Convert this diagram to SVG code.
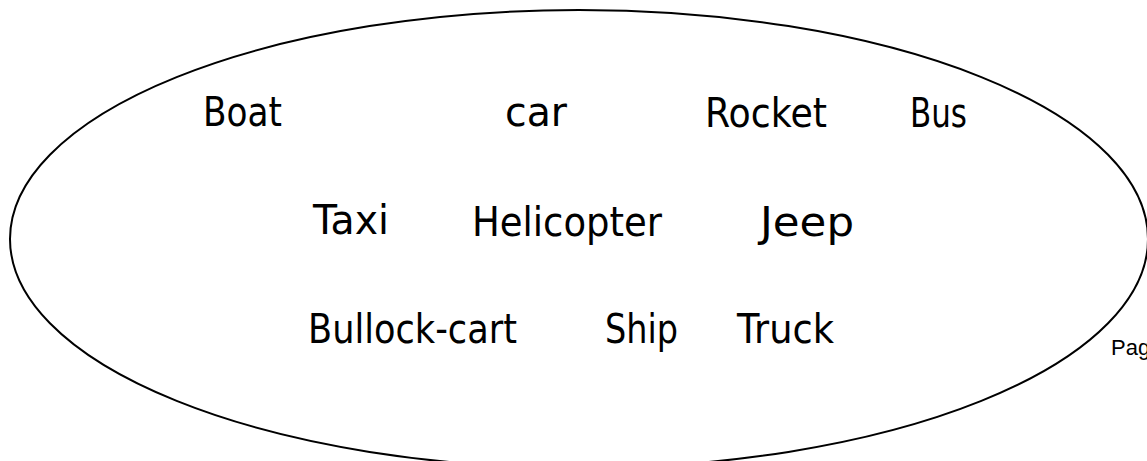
<svg xmlns="http://www.w3.org/2000/svg" width="1147" height="461" viewBox="0 0 1147 461">
<style>
.w{font-family:"DejaVu Sans","Liberation Sans",sans-serif;font-size:40px;fill:#000}
.p{font-family:"Liberation Sans","DejaVu Sans",sans-serif;font-size:22px;fill:#000}
</style>
<rect width="1147" height="461" fill="#fff"/>
<g id="oval"><ellipse cx="579" cy="239" rx="569" ry="229" fill="none" stroke="#000" stroke-width="2"/></g>
<g id="words">
<text id="boat" class="w" x="203" y="126" textLength="79" lengthAdjust="spacingAndGlyphs">Boat</text>
<text id="car" class="w" x="505" y="126" textLength="62" lengthAdjust="spacingAndGlyphs">car</text>
<text id="rocket" class="w" x="705" y="127" textLength="122" lengthAdjust="spacingAndGlyphs">Rocket</text>
<text id="bus" class="w" x="910" y="127" textLength="57" lengthAdjust="spacingAndGlyphs">Bus</text>
<text id="taxi" class="w" x="313" y="234" textLength="76" lengthAdjust="spacingAndGlyphs">Taxi</text>
<text id="helicopter" class="w" x="472" y="236" textLength="190" lengthAdjust="spacingAndGlyphs">Helicopter</text>
<text id="jeep" class="w" x="760" y="236" textLength="94" lengthAdjust="spacingAndGlyphs">Jeep</text>
<text id="bullock" class="w" x="308" y="343" textLength="209" lengthAdjust="spacingAndGlyphs">Bullock-cart</text>
<text id="ship" class="w" x="605" y="343" textLength="73" lengthAdjust="spacingAndGlyphs">Ship</text>
<text id="truck" class="w" x="737" y="343" textLength="97" lengthAdjust="spacingAndGlyphs">Truck</text>
</g>
<text class="p" x="1111" y="355">Pag</text>
</svg>
